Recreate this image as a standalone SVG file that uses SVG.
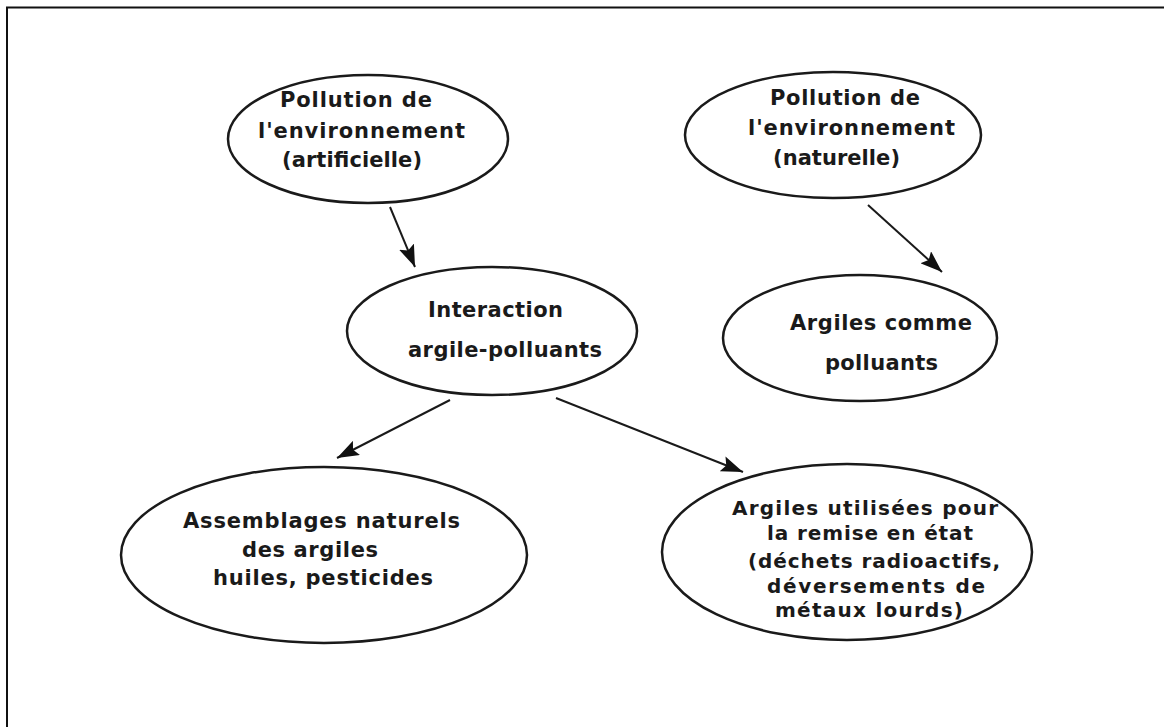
<svg xmlns="http://www.w3.org/2000/svg" width="1164" height="727" viewBox="0 0 1164 727">
<style>
.node ellipse{fill:#fff;stroke:#1a1a1a;stroke-width:2.5}
.node text{font-family:"DejaVu Sans","Liberation Sans",sans-serif;font-weight:bold;font-size:21px;fill:#1a1a1a}
.node text.s{font-size:20px}
.conn line{stroke:#1a1a1a;stroke-width:2}
</style>
<defs>
<marker id="ah" viewBox="0 0 22 16" refX="22" refY="8" markerWidth="22" markerHeight="16" markerUnits="userSpaceOnUse" orient="auto">
<path d="M0,0 L22,8 L0,16 L4,8 Z" fill="#111"/>
</marker>
</defs>
<rect width="1164" height="727" fill="#fff"/>
<path d="M7,727 V7.5 H1164" fill="none" stroke="#111" stroke-width="2"/>
<g class="conn">
<line x1="390" y1="207" x2="415" y2="267" marker-end="url(#ah)"/>
<line x1="868" y1="205" x2="942" y2="272" marker-end="url(#ah)"/>
<line x1="450" y1="400" x2="337" y2="458" marker-end="url(#ah)"/>
<line x1="556" y1="398" x2="743" y2="472" marker-end="url(#ah)"/>
</g>
<g id="n1" class="node">
<ellipse cx="368" cy="139" rx="140" ry="64"/>
<text x="280" y="107" textLength="152" lengthAdjust="spacing">Pollution de</text>
<text x="258" y="138" textLength="207" lengthAdjust="spacing">l'environnement</text>
<text x="282" y="167" textLength="140" lengthAdjust="spacing">(artificielle)</text>
</g>
<g id="n2" class="node">
<ellipse cx="833" cy="135" rx="148" ry="63"/>
<text x="770" y="105" textLength="150" lengthAdjust="spacing">Pollution de</text>
<text x="748" y="135" textLength="207" lengthAdjust="spacing">l'environnement</text>
<text x="773" y="165" textLength="127" lengthAdjust="spacing">(naturelle)</text>
</g>
<g id="n3" class="node">
<ellipse cx="492" cy="331" rx="145" ry="64"/>
<text x="428" y="317" textLength="135" lengthAdjust="spacing">Interaction</text>
<text x="408" y="357" textLength="194" lengthAdjust="spacing">argile-polluants</text>
</g>
<g id="n4" class="node">
<ellipse cx="860" cy="338" rx="137" ry="63"/>
<text x="790" y="330" textLength="182" lengthAdjust="spacing">Argiles comme</text>
<text x="825" y="370" textLength="113" lengthAdjust="spacing">polluants</text>
</g>
<g id="n5" class="node">
<ellipse cx="324" cy="555" rx="203" ry="88"/>
<text x="183" y="528" textLength="277" lengthAdjust="spacing">Assemblages naturels</text>
<text x="242" y="557" textLength="136" lengthAdjust="spacing">des argiles</text>
<text x="213" y="585" textLength="220" lengthAdjust="spacing">huiles, pesticides</text>
</g>
<g id="n6" class="node">
<ellipse cx="847" cy="552" rx="185" ry="88"/>
<text class="s" x="732" y="515" textLength="266" lengthAdjust="spacing">Argiles utilisées pour</text>
<text class="s" x="767" y="540" textLength="206" lengthAdjust="spacing">la remise en état</text>
<text class="s" x="748" y="568" textLength="252" lengthAdjust="spacing">(déchets radioactifs,</text>
<text class="s" x="767" y="593" textLength="218" lengthAdjust="spacing">déversements de</text>
<text class="s" x="775" y="617" textLength="188" lengthAdjust="spacing">métaux lourds)</text>
</g>
</svg>
